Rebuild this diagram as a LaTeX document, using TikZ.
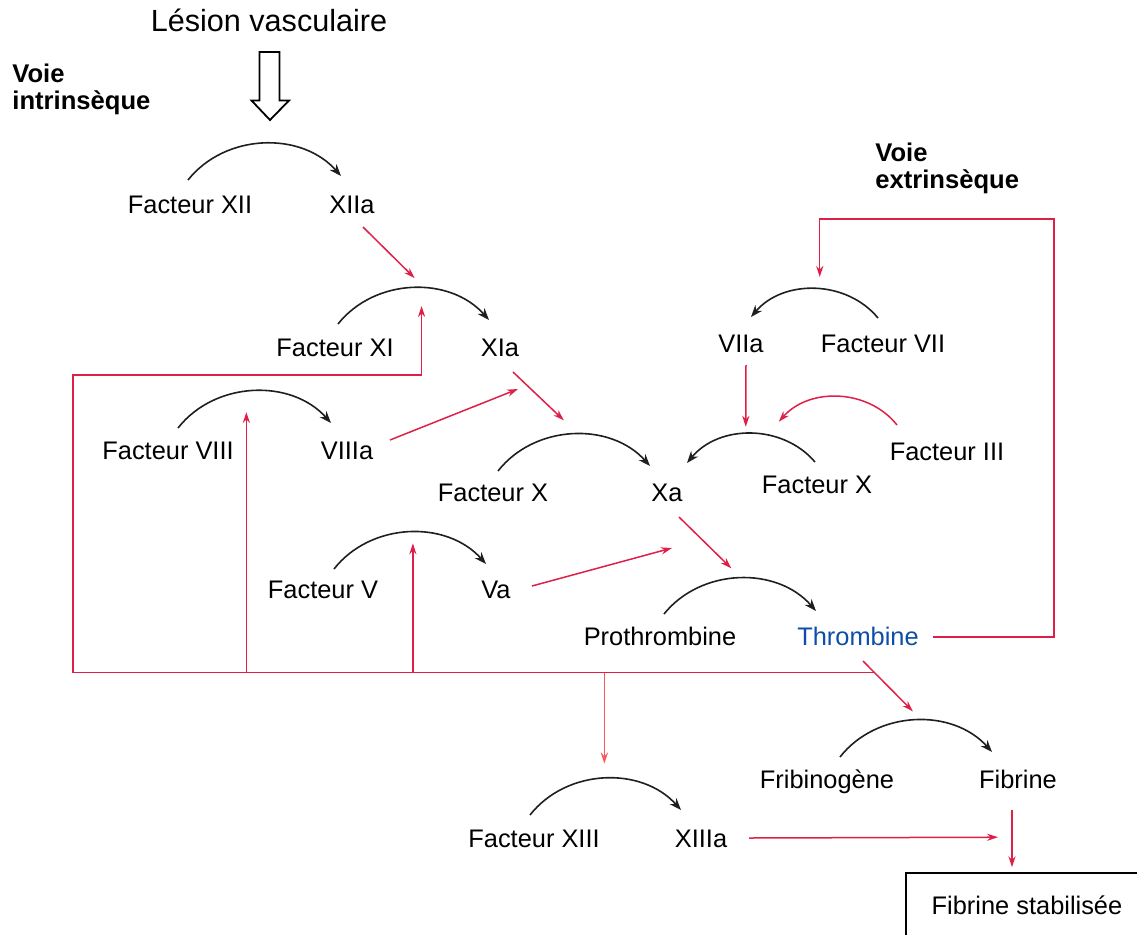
\documentclass[tikz,border=0pt]{standalone}
\usepackage{fontspec}
\setmainfont{Liberation Sans}
\usetikzlibrary{arrows.meta}
\definecolor{rouge}{RGB}{222,32,72}
\definecolor{rose}{RGB}{246,88,92}
\definecolor{bleu}{RGB}{12,78,168}
\tikzstyle{fact} = [inner sep=0pt, anchor=base, font=\fontsize{12.7}{15}\selectfont]
\tikzstyle{voie} = [inner sep=0pt, anchor=north west, align=left, font=\fontsize{12.8}{13.5}\selectfont\bfseries]
\tikzstyle{conv} = [line width=0.8pt, draw=black!88, -{Stealth[length=6pt,width=4.5pt]}]
\tikzstyle{act} = [line width=0.75pt, color=rouge, -{Stealth[length=5.5pt,width=3.6pt]}]

\begin{document}
\begin{tikzpicture}[x=0.5pt, y=0.5pt]
        \useasboundingbox (0,0) rectangle (1137,-934);
        % Titres
        \node (lesion) [fact, font=\fontsize{15.3}{18}\selectfont] at (269,-31) {Lésion vasculaire};
        \node (vint) [voie] at (12,-64) {Voie\\intrinsèque};
        \node (vext) [voie] at (875,-143) {Voie\\extrinsèque};
        
        % Voie intrinseque
        \node (xii) [fact] at (190,-213) {Facteur XII};
        \node (xiia) [fact] at (352,-213) {XIIa};
        \node (xi) [fact] at (335,-356) {Facteur XI};
        \node (xia) [fact] at (500,-356) {XIa};
        \node (viii) [fact] at (168,-459) {Facteur VIII};
        \node (viiia) [fact] at (347,-459) {VIIIa};
        \node (x) [fact] at (493,-501) {Facteur X};
        \node (xa) [fact] at (667,-501) {Xa};
        \node (v) [fact] at (323,-598) {Facteur V};
        \node (va) [fact] at (496,-598) {Va};
        \node (pro) [fact] at (660,-645) {Prothrombine};
        \node (thr) [fact, text=bleu] at (858,-645) {Thrombine};
        \node (fbg) [fact] at (827,-788) {Fribinogène};
        \node (fbn) [fact] at (1018,-788) {Fibrine};
        \node (xiii) [fact] at (534,-847) {Facteur XIII};
        \node (xiiia) [fact] at (701,-847) {XIIIa};
        \node (stab) [fact, anchor=center, draw, line width=0.8pt, minimum width=121pt, minimum height=32pt] at (1027,-905) {Fibrine stabilisée};
        
        % Voie extrinseque
        \node (viia) [fact] at (741,-352) {VIIa};
        \node (vii) [fact] at (883,-352) {Facteur VII};
        \node (xr) [fact] at (817,-493) {Facteur X};
        \node (iii) [fact] at (947,-460) {Facteur III};
        
        % Lesion
        \draw[line width=0.9pt] ([shift={(-9.5,-21)}]lesion.base) -- ++(0,-48.5) -- ++(-8,0) -- ++(18.5,-19.5) -- ++(19,19.5) -- ++(-9.5,0) -- ++(0,48.5) -- cycle;
        
        % Conversions
        \draw [conv] ([shift={(-2,33)}]xii.base) to[bend left=50] ([shift={(-11,37)}]xiia.base);
        \draw [conv] ([shift={(3,32)}]xi.base) to[bend left=50] coordinate[pos=0.5] (mxi) ([shift={(-11,36)}]xia.base);
        \draw [conv] ([shift={(10,31)}]viii.base) to[bend left=50] coordinate[pos=0.5] (mviii) ([shift={(-16,36)}]viiia.base);
        \draw [conv] ([shift={(5,30)}]x.base) to[bend left=50] coordinate[pos=0.5] (mx) ([shift={(-17,35)}]xa.base);
        \draw [conv] ([shift={(11,29)}]v.base) to[bend left=50] coordinate[pos=0.5] (mv) ([shift={(-10,34)}]va.base);
        \draw [conv] ([shift={(4,31)}]pro.base) to[bend left=50] coordinate[pos=0.5] (mpro) ([shift={(-42,34)}]thr.base);
        \draw [conv] ([shift={(13,31)}]fbg.base) to[bend left=50] coordinate[pos=0.5] (mfib) ([shift={(-26,36)}]fbn.base);
        \draw [conv] ([shift={(-4,32)}]xiii.base) to[bend left=50] coordinate[pos=0.5] (mxiii) ([shift={(-20,37)}]xiiia.base);
        \draw [conv] ([shift={(-5,34)}]vii.base) to[bend right=50] coordinate[pos=0.5] (mvii) ([shift={(10,35)}]viia.base);
        \draw [conv] ([shift={(-2,31)}]xr.base) to[bend right=50] coordinate[pos=0.5] (mxr) ([shift={(20,38)}]xa.base);
        
        % Activations
        \draw [act] ([shift={(11,-14)}]xiia.base) -- ([shift={(2,10)}]mxi);
        \draw [act] ([shift={(13,-16)}]xia.base) -- ([shift={(-9,14)}]mx);
        \draw [act] ([shift={(43,19)}]viiia.base) -- ([shift={(18,-33)}]xia.base);
        \draw [act] ([shift={(36,12)}]va.base) -- ([shift={(5,-47)}]xa.base);
        \draw [act] ([shift={(12,-16)}]xa.base) -- ([shift={(-8,10)}]mpro);
        \draw [act] ([shift={(5,-13)}]viia.base) -- ([shift={(-5,7)}]mxr);
        \draw [act] ([shift={(-50,35)}]iii.base) to[bend right=50] ([shift={(28,12)}]mxr);
        \draw [act] ([shift={(5,-16)}]thr.base) -- coordinate[pos=0.23] (bus) ([shift={(-2,9)}]mfib);
        
        % Retours de la thrombine
        \coordinate (ext) at (1054,-219);
        \coordinate (coin) at (73,-375);
        \coordinate (tviii) at ([shift={(-7,-21)}]mviii);
        \coordinate (tv) at ([shift={(4,-11)}]mv);
        \coordinate (txiii) at ([shift={(0,15)}]mxiii);
        \draw [act] ([shift={(75,8)}]thr.base) -| (ext) -| ([shift={(5,12)}]mvii);
        \draw [act] (bus) -| (coin) -| ([shift={(9,-18)}]mxi);
        \draw [act] (bus -| tviii) -- (tviii);
        \draw [act] (bus -| tv) -- (tv);
        \draw [act, color=rose] (bus -| txiii) -- (txiii);
        
        % Fibrine stabilisee
        \draw [act] ([shift={(48,9)}]xiiia.base) -- ([shift={(-29,35)}]stab.north);
        \draw [act] ([shift={(-6,-22)}]fbn.base) -- ([shift={(-15,5)}]stab.north);
    \end{tikzpicture}
\end{document}
